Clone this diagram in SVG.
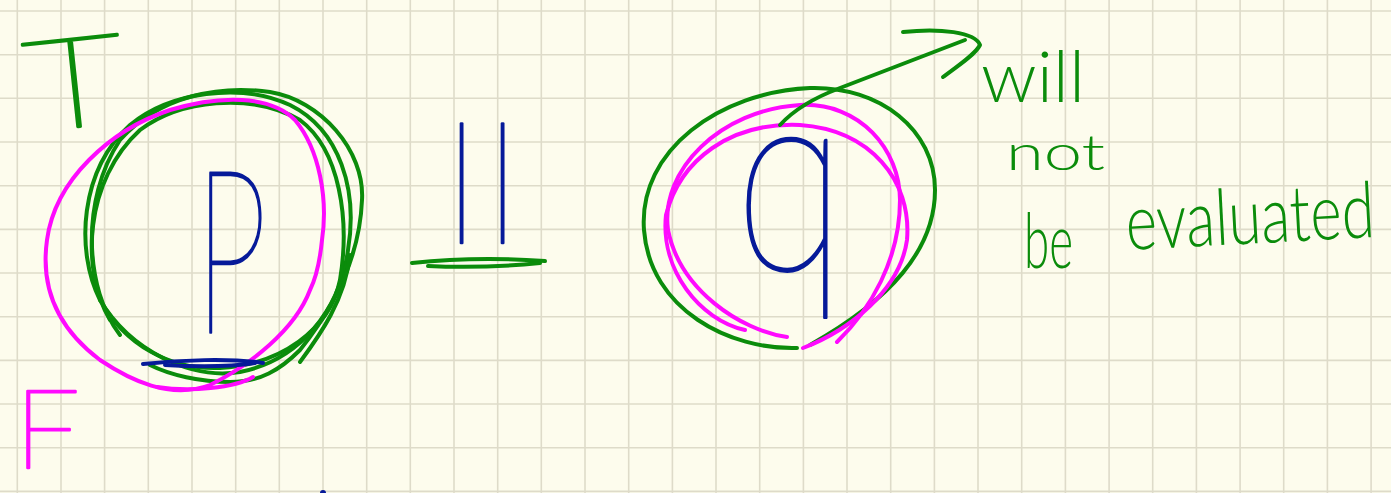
<svg xmlns="http://www.w3.org/2000/svg" width="1391" height="493" viewBox="0 0 1391 493">
<style>
.ink{fill:none;stroke-linecap:round;stroke-linejoin:round;stroke-width:4}
.g{stroke:#0b8c0b}
.m{stroke:#ff0aff}
.n{stroke:#061a99}
.tg{fill:#0b8c0b}
.tm{fill:#ff0aff}
.tn{fill:#061a99}
.hand{font-family:Lato,"Liberation Sans",sans-serif}
.big{font-weight:100;stroke-width:2.6;stroke-linejoin:round}
.sm{font-weight:300}
</style>
<rect width="1391" height="493" fill="#fdfced"/>
<g id="grid" stroke="#dedbc9" stroke-width="1.6" fill="none">
<path d="M17.3,0V493M61,0V493M104.6,0V493M148.3,0V493M192,0V493M235.7,0V493M279.3,0V493M323,0V493M366.7,0V493M410.3,0V493M454,0V493M497.7,0V493M541.3,0V493M585,0V493M628.7,0V493M672.4,0V493M716,0V493M759.7,0V493M803.4,0V493M847,0V493M890.7,0V493M934.4,0V493M978,0V493M1021.7,0V493M1065.4,0V493M1109.1,0V493M1152.7,0V493M1196.4,0V493M1240.1,0V493M1283.7,0V493M1327.4,0V493M1371.1,0V493"/>
<path d="M0,11H1391M0,54.7H1391M0,98.3H1391M0,142H1391M0,185.7H1391M0,229.4H1391M0,273H1391M0,316.7H1391M0,360.4H1391M0,404H1391M0,447.7H1391M0,491.4H1391"/>
</g>
<g id="label-T">
<text class="hand big tg" stroke="#0b8c0b" x="24" y="127" font-size="126" textLength="100" lengthAdjust="spacingAndGlyphs" transform="rotate(-6 75 80)">T</text>
</g>
<g id="label-F">
<text class="hand big tm" stroke="#ff0aff" x="14" y="468" font-size="110" textLength="66" lengthAdjust="spacingAndGlyphs">F</text>
</g>
<g id="node-P">
<path class="ink g" d="M100,300 C75,250 80,170 130,125 C170,92 240,82 290,105 C340,130 358,190 348,250 C340,310 300,360 240,372 C190,380 130,350 100,300"/>
<path class="ink g" d="M110,320 C80,270 85,180 140,130 C180,100 250,92 300,120 C340,150 350,220 340,280 C330,330 280,365 220,368 C170,370 125,345 100,300"/>
<path class="ink g" d="M120,335 C85,290 80,200 120,140 C160,95 220,85 270,92 C320,100 365,150 362,200 C360,250 340,300 300,350 C280,370 260,382 230,382 C200,382 170,375 150,365"/>
<path class="ink g" d="M300,362 C320,335 345,300 350,255"/>
<path class="ink m" d="M310,290 C295,330 250,365 210,385 C170,400 130,380 100,360 C60,330 40,290 47,240 C55,180 110,130 170,110 C220,95 270,95 295,120 C320,150 328,200 322,240 C320,260 315,280 310,290"/>
<path class="ink m" d="M157,387 C190,392 235,388 253,377"/>
<text class="hand big tn" stroke="#061a99" x="195" y="333" font-size="229" textLength="72" lengthAdjust="spacingAndGlyphs">P</text>
<path class="ink n" d="M143,364 C180,360 230,358 263,363" stroke-width="6"/>
<path class="ink n" d="M165,365 C200,367 235,366 255,363" stroke-width="8"/>
</g>
<g id="node-or">
<text class="hand big tn" stroke="#061a99" x="447 488" y="220" font-size="128">||</text>
<path class="ink g" d="M412,263 C450,259 500,258 545,261" stroke-width="6"/>
<path class="ink g" d="M428,266 C470,268 510,266 540,263" stroke-width="5"/>
</g>
<g id="node-q">
<path class="ink g" d="M797,348 C730,350 650,310 644,230 C638,150 720,92 810,88 C880,86 935,130 935,190 C935,250 890,300 810,345"/>
<path class="ink m" d="M787,337 C740,330 680,290 668,230 C660,170 720,110 800,105 C860,102 900,150 900,200 C900,260 870,310 837,342"/>
<path class="ink m" d="M803,348 C850,330 900,290 907,240 C912,180 870,130 800,125 C730,122 680,160 666,215 C660,270 700,320 745,330"/>
<text class="hand big tn" stroke="#061a99" x="735" y="270" font-size="265" textLength="110" lengthAdjust="spacingAndGlyphs">q</text>
</g>
<g id="connectors">
<path class="ink g" d="M780,125 Q800,103 840,88 L965,40"/>
<path class="ink g" d="M903,32 C940,28 975,32 980,45 C975,55 955,68 943,77"/>
</g>
<g id="note">
<text class="hand sm tg" x="981" y="102" font-size="70" textLength="104" lengthAdjust="spacingAndGlyphs">will</text>
<text class="hand sm tg" x="1006" y="170" font-size="50" textLength="99" lengthAdjust="spacingAndGlyphs">not</text>
<text class="hand sm tg" x="1024" y="268" font-size="76" textLength="49" lengthAdjust="spacingAndGlyphs">be</text>
<text class="hand sm tg" x="0" y="0" font-size="60" transform="translate(1127 250) rotate(-3) scale(1 1.3)">evaluated</text>
</g>
<circle cx="323" cy="493" r="3" fill="#061a99"/>
</svg>
